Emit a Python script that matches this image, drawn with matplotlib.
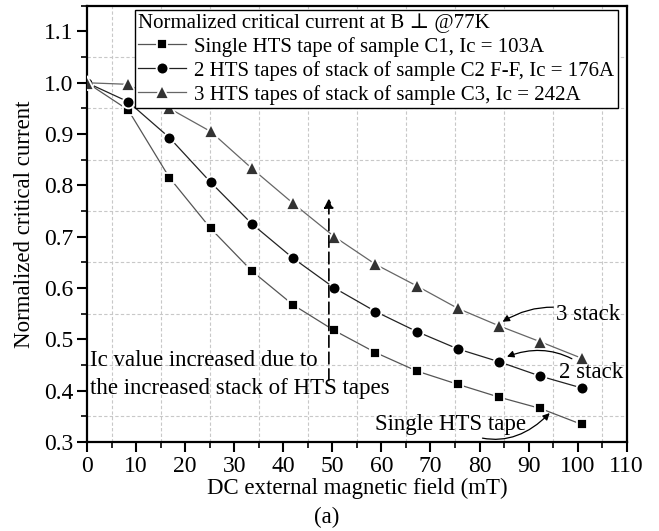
import matplotlib
matplotlib.use("Agg")
import matplotlib.pyplot as plt
import numpy as np
from matplotlib.ticker import MultipleLocator

plt.rcParams["font.family"] = ["Liberation Serif", "DejaVu Serif"]

field = [0, 8.4, 16.8, 25.2, 33.6, 42.0, 50.4, 58.8, 67.2, 75.6, 84.0, 92.4, 100.8]
single = [1.0, 0.947, 0.815, 0.716, 0.633, 0.567, 0.517, 0.474, 0.438, 0.412, 0.387, 0.365, 0.334]
two_stack = [1.0, 0.963, 0.893, 0.806, 0.725, 0.658, 0.600, 0.554, 0.515, 0.481, 0.456, 0.428, 0.405]
three_stack = [1.0, 0.997, 0.950, 0.905, 0.833, 0.765, 0.700, 0.646, 0.604, 0.560, 0.526, 0.495, 0.463]

labels = [
    "Single HTS tape of sample C1, Ic = 103A",
    "2 HTS tapes of stack of sample C2 F-F, Ic = 176A",
    "3 HTS tapes of stack of sample C3, Ic = 242A",
]

tick_fs = 17
lab_fs = 16.5
leg_fs = 15

fig = plt.figure(figsize=(6.59, 5.31), dpi=100)
ax = fig.add_axes([0.132, 0.168, 0.819, 0.821])

ax.plot(field, single, color="#555555", lw=0.9, marker="s", ms=7.5,
        mfc="black", mec="white", mew=1.3, label=labels[0], zorder=3)
ax.plot(field, two_stack, color="#222222", lw=0.9, marker="o", ms=8.5,
        mfc="black", mec="white", mew=1.3, label=labels[1], zorder=3)
ax.plot(field, three_stack, color="#666666", lw=0.9, marker="^", ms=10,
        mfc="#333333", mec="white", mew=1.3, label=labels[2], zorder=3)

ax.set_xlim(0, 110)
ax.set_ylim(0.3, 1.15)
ax.xaxis.set_major_locator(MultipleLocator(10))
ax.xaxis.set_minor_locator(MultipleLocator(5))
ax.yaxis.set_minor_locator(MultipleLocator(0.05))
yt = np.arange(0.3, 1.11, 0.1)
ax.set_yticks(yt)
ax.set_yticklabels([f"{v:.1f}" for v in yt])

for v in np.arange(5, 110, 10):
    ax.axvline(v, color="#c8c8c8", lw=0.8, ls=(0, (3, 2)), zorder=0)
for v in np.arange(0.35, 1.1, 0.1):
    ax.axhline(v, color="#c8c8c8", lw=0.8, ls=(0, (3, 2)), zorder=0)

for s in ax.spines.values():
    s.set_linewidth(1.6)
ax.tick_params(which="major", direction="out", length=7, width=1.5,
               labelsize=tick_fs, pad=3)
ax.tick_params(which="minor", direction="out", length=4, width=1.2)

ax.set_xlabel("DC external magnetic field (mT)", fontsize=lab_fs, labelpad=1)
ax.set_ylabel("Normalized critical current", fontsize=lab_fs, labelpad=6)
fig.text(0.496, 0.026, "(a)", fontsize=lab_fs, ha="center", va="center")

leg = ax.legend(loc="upper left", bbox_to_anchor=(0.089, 0.991), borderaxespad=0,
                title="Normalized critical current at B \u22a5 @77K",
                fontsize=leg_fs, title_fontsize=leg_fs, alignment="left",
                frameon=True, fancybox=False, edgecolor="black", framealpha=1,
                handlelength=2.3, handletextpad=0.4, labelspacing=0.2,
                borderpad=0.15)
leg.get_frame().set_linewidth(1.0)
leg.set_zorder(5)

# vertical arrow: Ic rises with stack size
ax.annotate("", xy=(49.3, 0.78), xytext=(49.3, 0.414),
            arrowprops=dict(arrowstyle="-|>", color="black", lw=1.2,
                            ls=(0, (7, 3)), mutation_scale=14))
ax.text(0.6, 0.459, "Ic value increased due to", fontsize=lab_fs, va="center")
ax.text(0.6, 0.404, "the increased stack of HTS tapes", fontsize=lab_fs, va="center")

ax.annotate("3 stack", xy=(84.7, 0.534), xytext=(95.6, 0.548), fontsize=lab_fs,
            va="center", ha="left",
            arrowprops=dict(arrowstyle="-|>", color="black", lw=0.9,
                            connectionstyle="arc3,rad=0.25", mutation_scale=10,
                            shrinkA=0, shrinkB=0))
ax.annotate("2 stack", xy=(85.6, 0.466), xytext=(96.2, 0.436), fontsize=lab_fs,
            va="center", ha="left",
            arrowprops=dict(arrowstyle="-|>", color="black", lw=0.9,
                            connectionstyle="arc3,rad=0.3", mutation_scale=10,
                            shrinkA=0, shrinkB=0))
ax.annotate("Single HTS tape", xy=(94.3, 0.356), xytext=(89.4, 0.333),
            fontsize=lab_fs, va="center", ha="right",
            arrowprops=dict(arrowstyle="-|>", color="black", lw=0.9,
                            connectionstyle="arc3,rad=0.4", mutation_scale=10,
                            shrinkA=0, shrinkB=0))

fig.savefig("out.png", dpi=100)
